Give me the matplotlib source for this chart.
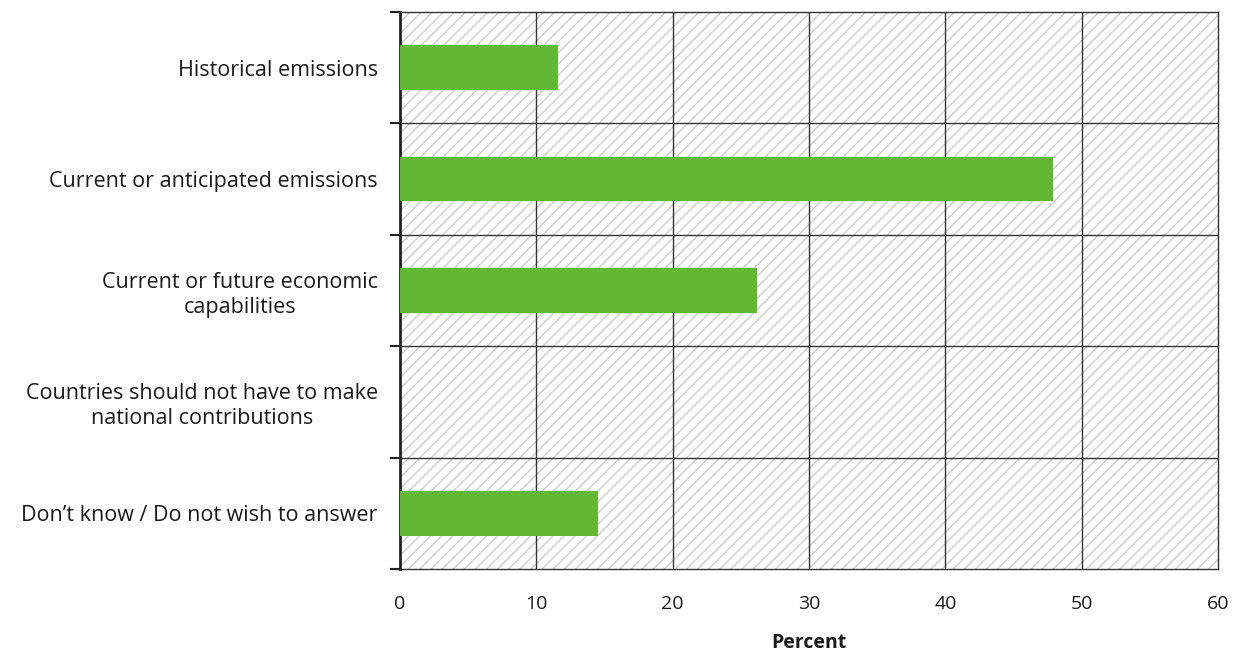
import matplotlib
matplotlib.use("Agg")
import matplotlib.pyplot as plt
from matplotlib.patches import Rectangle

# categories from top to bottom
categorias = ["Historical emissions",
              "Current or anticipated emissions",
              "Current or future economic\ncapabilities",
              "Countries should not have to make\nnational contributions",
              "Don\u2019t know / Do not wish to answer"]
valores = [11.6, 47.9, 26.2, 0, 14.5]
xticks = [0, 10, 20, 30, 40, 50, 60]

plt.rcParams['font.family'] = ['Open Sans', 'DejaVu Sans']
plt.rcParams['hatch.linewidth'] = 1.0

fig = plt.figure(figsize=(12.41, 6.54), dpi=100)
ax = fig.add_axes([0.3223, 0.130, 0.6592, 0.8517])

pos = list(range(len(categorias)))
ax.set_xlim(0, 60)
ax.set_ylim(len(categorias) - 0.5, -0.5)

# fundo hachurado
fundo = Rectangle((0, 0), 1, 1, transform=ax.transAxes, facecolor='white',
                  edgecolor='#cdcdcd', linewidth=0, hatch='///', zorder=0)
ax.add_patch(fundo)

ax.barh(pos, valores, height=0.4, color='#62b832', zorder=3)

# grade
for x in xticks[1:-1]:
    ax.axvline(x, color='#333333', lw=1, zorder=2)
for i in range(1, len(categorias)):
    ax.axhline(i - 0.5, color='#333333', lw=1, zorder=2)

ax.set_xticks(xticks)
ax.set_xticklabels([str(x) for x in xticks], fontsize=14, color='#1a1a1a')
ax.tick_params(axis='x', length=0, pad=19)

ax.set_yticks(pos)
ax.set_yticklabels(categorias, fontsize=15.5, color='#1a1a1a', ha='right',
                   multialignment='center', linespacing=1.25)
ax.tick_params(axis='y', which='major', length=0, pad=16)
ax.set_yticks([i - 0.5 for i in range(len(categorias) + 1)], minor=True)
ax.tick_params(axis='y', which='minor', length=7, width=1.5, color='#222222', direction='out')

for s in ['top', 'right', 'bottom']:
    ax.spines[s].set_color('#333333')
    ax.spines[s].set_linewidth(1)
ax.spines['left'].set_color('#222222')
ax.spines['left'].set_linewidth(2)

ax.set_xlabel("Percent", fontsize=14, fontweight='bold', labelpad=14, color='#1a1a1a')

fig.savefig("out.png", dpi=100)
